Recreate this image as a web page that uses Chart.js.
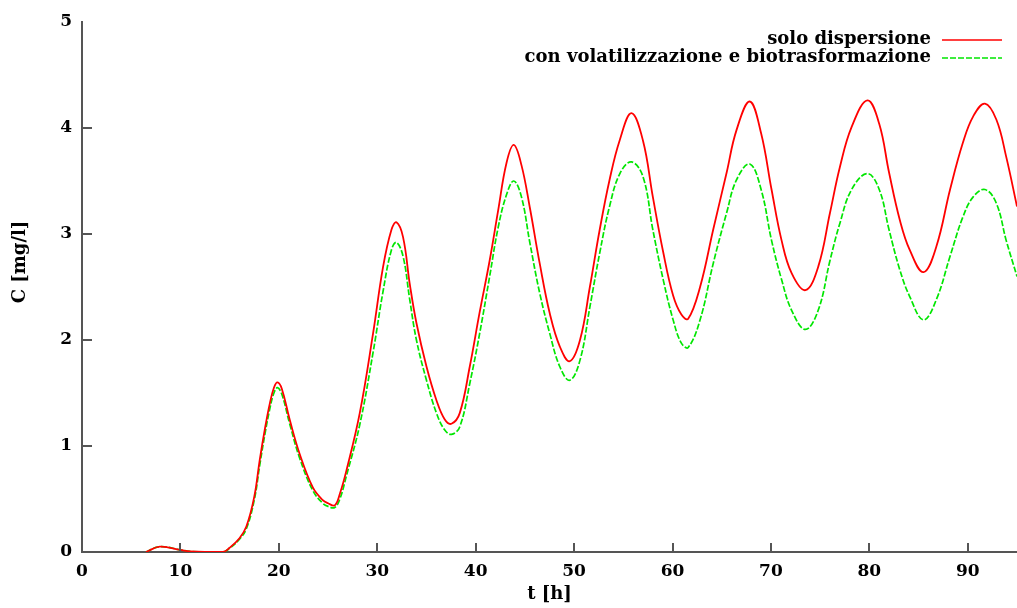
<!DOCTYPE html>
<html>
<head>
<meta charset="utf-8">
<script src="https://cdn.jsdelivr.net/npm/chart.js@4"></script>
<style>
  html, body { margin: 0; padding: 0; background: #fff; }
  #wrap { width: 1017px; height: 608px; position: relative; }
</style>
</head>
<body>
<div id="wrap"><canvas id="c"></canvas></div>
<script>
// tempo [h] e concentrazioni
const tempi = [6.5, 7.9, 10, 11, 14.3, 15, 16, 16.7, 17.5, 18.06, 18.6, 19.08, 19.5, 19.86, 20.3, 21.1, 22.1, 23.45, 24.46, 25.0, 25.68, 26.2, 26.87, 28.22, 29.57, 30.59, 31.44, 31.95, 32.62, 33.3, 33.98, 35.0, 36.02, 36.86, 37.54, 38.38, 39.4, 40.4, 41.42, 42.28, 43.13, 43.87, 44.65, 45.5, 46.51, 47.53, 48.54, 49.56, 50.6, 51.6, 52.6, 53.6, 54.65, 55.83, 57.0, 58.0, 59.05, 60.06, 60.9, 61.59, 62.8, 64.13, 65.5, 66.5, 67.85, 69.0, 70.06, 71.08, 72.1, 73.5, 74.8, 76.0, 77.0, 78.2, 79.8, 81.0, 82.0, 83.1, 84.1, 85.5, 86.8, 88.2, 89.5, 90.55, 91.74, 92.9, 93.9, 95.0];
const soloDispersione = [0, 0.05, 0.02, 0.005, 0, 0.04, 0.13, 0.24, 0.52, 0.87, 1.17, 1.4, 1.55, 1.6, 1.54, 1.25, 0.93, 0.61, 0.49, 0.46, 0.44, 0.55, 0.77, 1.31, 2.06, 2.69, 3.04, 3.11, 2.97, 2.53, 2.16, 1.75, 1.43, 1.25, 1.21, 1.31, 1.75, 2.26, 2.75, 3.22, 3.67, 3.84, 3.65, 3.25, 2.72, 2.25, 1.94, 1.8, 2.0, 2.5, 3.04, 3.51, 3.89, 4.14, 3.88, 3.35, 2.83, 2.42, 2.24, 2.2, 2.5, 3.04, 3.58, 3.98, 4.25, 3.95, 3.42, 2.94, 2.63, 2.47, 2.69, 3.2, 3.63, 4.01, 4.26, 4.04, 3.58, 3.13, 2.85, 2.64, 2.88, 3.42, 3.86, 4.11, 4.23, 4.08, 3.73, 3.26];
const conVolatilizzazione = [0, 0.05, 0.02, 0.005, 0, 0.035, 0.12, 0.22, 0.49, 0.82, 1.12, 1.35, 1.5, 1.55, 1.49, 1.21, 0.89, 0.58, 0.46, 0.43, 0.42, 0.5, 0.72, 1.2, 1.88, 2.46, 2.85, 2.92, 2.79, 2.38, 2.0, 1.62, 1.31, 1.15, 1.11, 1.18, 1.59, 2.06, 2.6, 3.06, 3.37, 3.5, 3.35, 2.92, 2.44, 2.06, 1.75, 1.62, 1.81, 2.31, 2.82, 3.26, 3.57, 3.68, 3.54, 3.04, 2.57, 2.19, 1.97, 1.93, 2.19, 2.72, 3.2, 3.51, 3.66, 3.42, 2.94, 2.57, 2.28, 2.1, 2.28, 2.75, 3.1, 3.42, 3.57, 3.42, 3.04, 2.66, 2.41, 2.19, 2.38, 2.79, 3.16, 3.35, 3.42, 3.29, 2.94, 2.6];
const xTicks = [0, 10, 20, 30, 40, 50, 60, 70, 80, 90];
const yTicks = [0, 1, 2, 3, 4, 5];
const etichette = ["solo dispersione", "con volatilizzazione e biotrasformazione"];

const FONT = "'DejaVu Serif', serif";
const AXIS = "#555";

const pts = (ys) => tempi.map((t, i) => ({ x: t, y: ys[i] }));

// tacche interne, titoli degli assi e legenda stile gnuplot
const extras = {
  id: "extras",
  afterDraw(chart) {
    const { ctx, chartArea: a, scales: { x, y } } = chart;
    ctx.save();
    ctx.strokeStyle = AXIS; ctx.lineWidth = 2;
    xTicks.slice(1).forEach((v) => { const p = Math.round(x.getPixelForValue(v)); ctx.beginPath(); ctx.moveTo(p, a.bottom); ctx.lineTo(p, a.bottom - 9); ctx.stroke(); });
    yTicks.slice(1, -1).forEach((v) => { const p = Math.round(y.getPixelForValue(v)); ctx.beginPath(); ctx.moveTo(a.left, p); ctx.lineTo(a.left + 10, p); ctx.stroke(); });

    ctx.fillStyle = "#000"; ctx.font = "bold 18px " + FONT;
    ctx.textAlign = "center"; ctx.textBaseline = "middle";
    ctx.fillText("t [h]", (a.left + a.right) / 2, 594);
    ctx.translate(20, 262); ctx.rotate(-Math.PI / 2); ctx.fillText("C [mg/l]", 0, 0);
    ctx.setTransform(1, 0, 0, 1, 0, 0);

    ctx.textAlign = "right"; ctx.textBaseline = "middle";
    chart.data.datasets.forEach((ds, i) => {
      const yy = 39 + i * 18;
      ctx.fillStyle = "#000"; ctx.fillText(ds.label, 931, yy);
      ctx.strokeStyle = ds.borderColor; ctx.lineWidth = 1.6; ctx.setLineDash(ds.borderDash || []);
      ctx.beginPath(); ctx.moveTo(942, yy + 1); ctx.lineTo(1002, yy + 1); ctx.stroke();
    });
    ctx.restore();
  }
};

new Chart(document.getElementById("c"), {
  type: "line",
  data: {
    datasets: [
      { label: etichette[0], data: pts(soloDispersione), borderColor: "#ff0000", borderWidth: 1.8, pointRadius: 0, tension: 0.4, fill: false },
      { label: etichette[1], data: pts(conVolatilizzazione), borderColor: "#00e600", borderWidth: 1.7, borderDash: [6, 2], pointRadius: 0, tension: 0.4, fill: false }
    ]
  },
  options: {
    responsive: true, maintainAspectRatio: false, animation: false,
    layout: { padding: { top: 22, right: 0, left: 0, bottom: 0 } },
    plugins: { legend: { display: false }, tooltip: { enabled: false } },
    scales: {
      x: { type: "linear", min: 0, max: 95,
        afterBuildTicks: (s) => { s.ticks = xTicks.map((v) => ({ value: v })); },
        afterFit: (s) => { s.height = 56; },
        grid: { drawOnChartArea: false, drawTicks: false },
        border: { display: true, color: AXIS, width: 2 },
        ticks: { color: "#000", padding: 9, font: { family: FONT, size: 17, weight: "bold" }, maxRotation: 0 } },
      y: { type: "linear", min: 0, max: 5,
        afterBuildTicks: (s) => { s.ticks = yTicks.map((v) => ({ value: v })); },
        afterFit: (s) => { s.width = 82; },
        grid: { drawOnChartArea: false, drawTicks: false },
        border: { display: true, color: AXIS, width: 2 },
        ticks: { color: "#000", padding: 10, font: { family: FONT, size: 17, weight: "bold" } } }
    }
  },
  plugins: [extras]
});
</script>
</body>
</html>
